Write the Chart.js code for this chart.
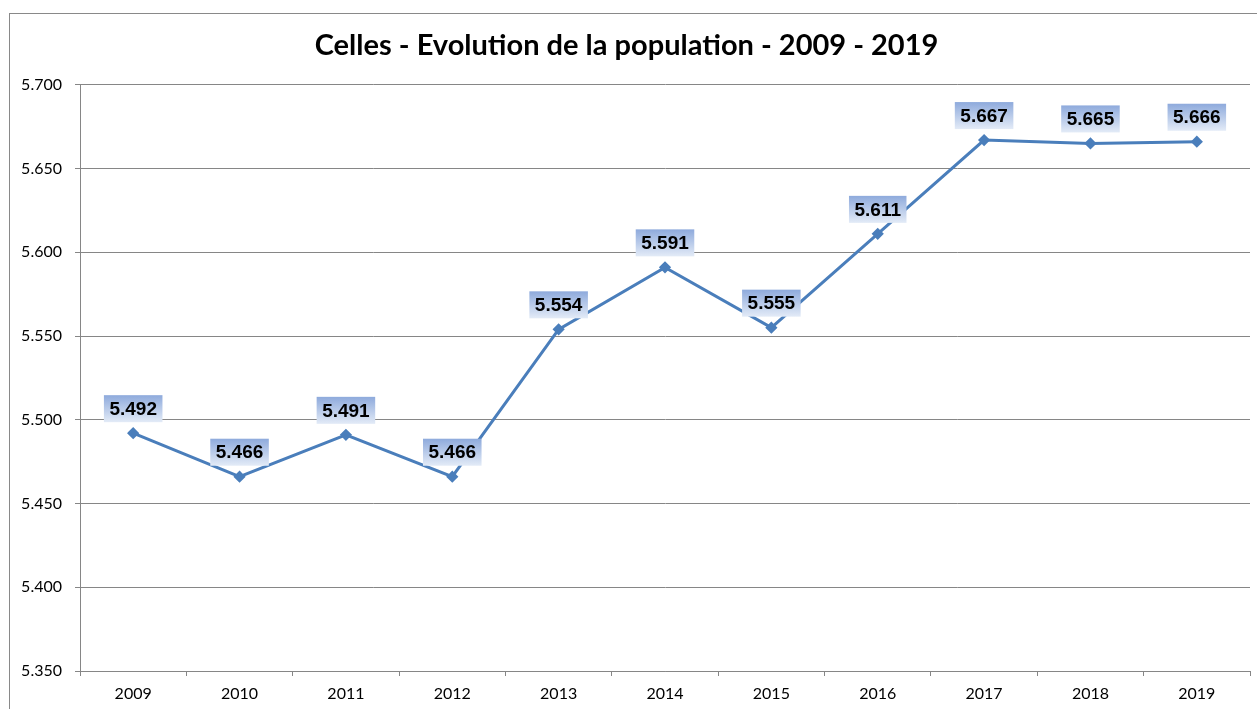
<!DOCTYPE html>
<html>
<head>
<meta charset="utf-8">
<script src="https://cdn.jsdelivr.net/npm/chart.js@4"></script>
<style>
  html, body { margin: 0; padding: 0; background: #fff; overflow: hidden; }
  #wrap { width: 1257px; height: 709px; position: relative; }
</style>
</head>
<body>
<div id="wrap"><canvas id="graphique"></canvas></div>
<script>
const annees = ["2009", "2010", "2011", "2012", "2013", "2014", "2015", "2016", "2017", "2018", "2019"];
const population = [5492, 5466, 5491, 5466, 5554, 5591, 5555, 5611, 5667, 5665, 5666];
const titre = "Celles - Evolution de la population - 2009 - 2019";
const axeMin = 5350;
const axeMax = 5700;
const axePas = 50;

// format belge : 5.492
function formatBelge(v) {
  const s = String(Math.round(v));
  return s.replace(/\B(?=(\d{3})+(?!\d))/g, ".");
}

// cadre gris autour du graphique
const cadre = {
  id: "cadre",
  beforeDraw(chart) {
    const c = chart.ctx;
    c.save();
    c.fillStyle = "#fff";
    c.fillRect(0, 0, chart.width, chart.height);
    c.strokeStyle = "#898989";
    c.lineWidth = 1;
    c.strokeRect(9.5, 13.5, 1400, 900);
    c.restore();
  }
};

// étiquettes de valeur avec fond en dégradé
const etiquettes = {
  id: "etiquettes",
  afterDatasetsDraw(chart) {
    const c = chart.ctx;
    const meta = chart.getDatasetMeta(0);
    c.save();
    c.font = "bold 19px 'Liberation Sans', Arial, sans-serif";
    c.textAlign = "center";
    c.textBaseline = "middle";
    meta.data.forEach((pt, i) => {
      const txt = formatBelge(chart.data.datasets[0].data[i]);
      const w = c.measureText(txt).width + 11;
      const h = 27;
      const x = pt.x - w / 2;
      const y = pt.y - 11 - h;
      const g = c.createLinearGradient(0, y, 0, y + h);
      g.addColorStop(0, "#8eaadc");
      g.addColorStop(1, "#e3ebf7");
      c.fillStyle = g;
      c.fillRect(x, y, w, h);
      c.fillStyle = "#000";
      c.fillText(txt, pt.x, y + h / 2 + 1);
    });
    c.restore();
  }
};

new Chart(document.getElementById("graphique"), {
  type: "line",
  data: {
    labels: annees,
    datasets: [
      {
        label: "Population",
        data: population,
        borderColor: "#4a7ebb",
        backgroundColor: "#4a7ebb",
        borderWidth: 3,
        pointStyle: "rectRot",
        pointRadius: 4,
        pointHoverRadius: 4,
        tension: 0,
      },
    ],
  },
  options: {
    responsive: true,
    maintainAspectRatio: false,
    animation: false,
    layout: { padding: { left: 0, right: 4, top: 0, bottom: 0 } },
    plugins: {
      legend: { display: false },
      tooltip: { enabled: false },
      title: {
        display: true,
        text: titre,
        color: "#000",
        font: { family: "Lato, 'Open Sans', sans-serif", size: 29, weight: "bold" },
        padding: { top: 28, bottom: 22 },
      },
    },
    scales: {
      x: {
        offset: true,
        grid: {
          offset: true,
          drawOnChartArea: false,
          drawTicks: true,
          tickLength: 5,
          color: "#868686",
        },
        border: { color: "#868686", width: 1 },
        ticks: {
          color: "#000",
          padding: 8,
          font: { family: "Lato, 'Open Sans', sans-serif", size: 16 },
        },
        afterFit(scale) { scale.height = 38; },
      },
      y: {
        min: axeMin,
        max: axeMax,
        grid: {
          color: "#868686",
          tickLength: 5,
        },
        border: { color: "#868686", width: 1 },
        ticks: {
          stepSize: axePas,
          color: "#000",
          padding: 13,
          font: { family: "Lato, 'Open Sans', sans-serif", size: 16 },
          callback: (v) => formatBelge(v),
        },
        afterFit(scale) { scale.width = 80; },
      },
    },
  },
  plugins: [cadre, etiquettes],
});
</script>
</body>
</html>
